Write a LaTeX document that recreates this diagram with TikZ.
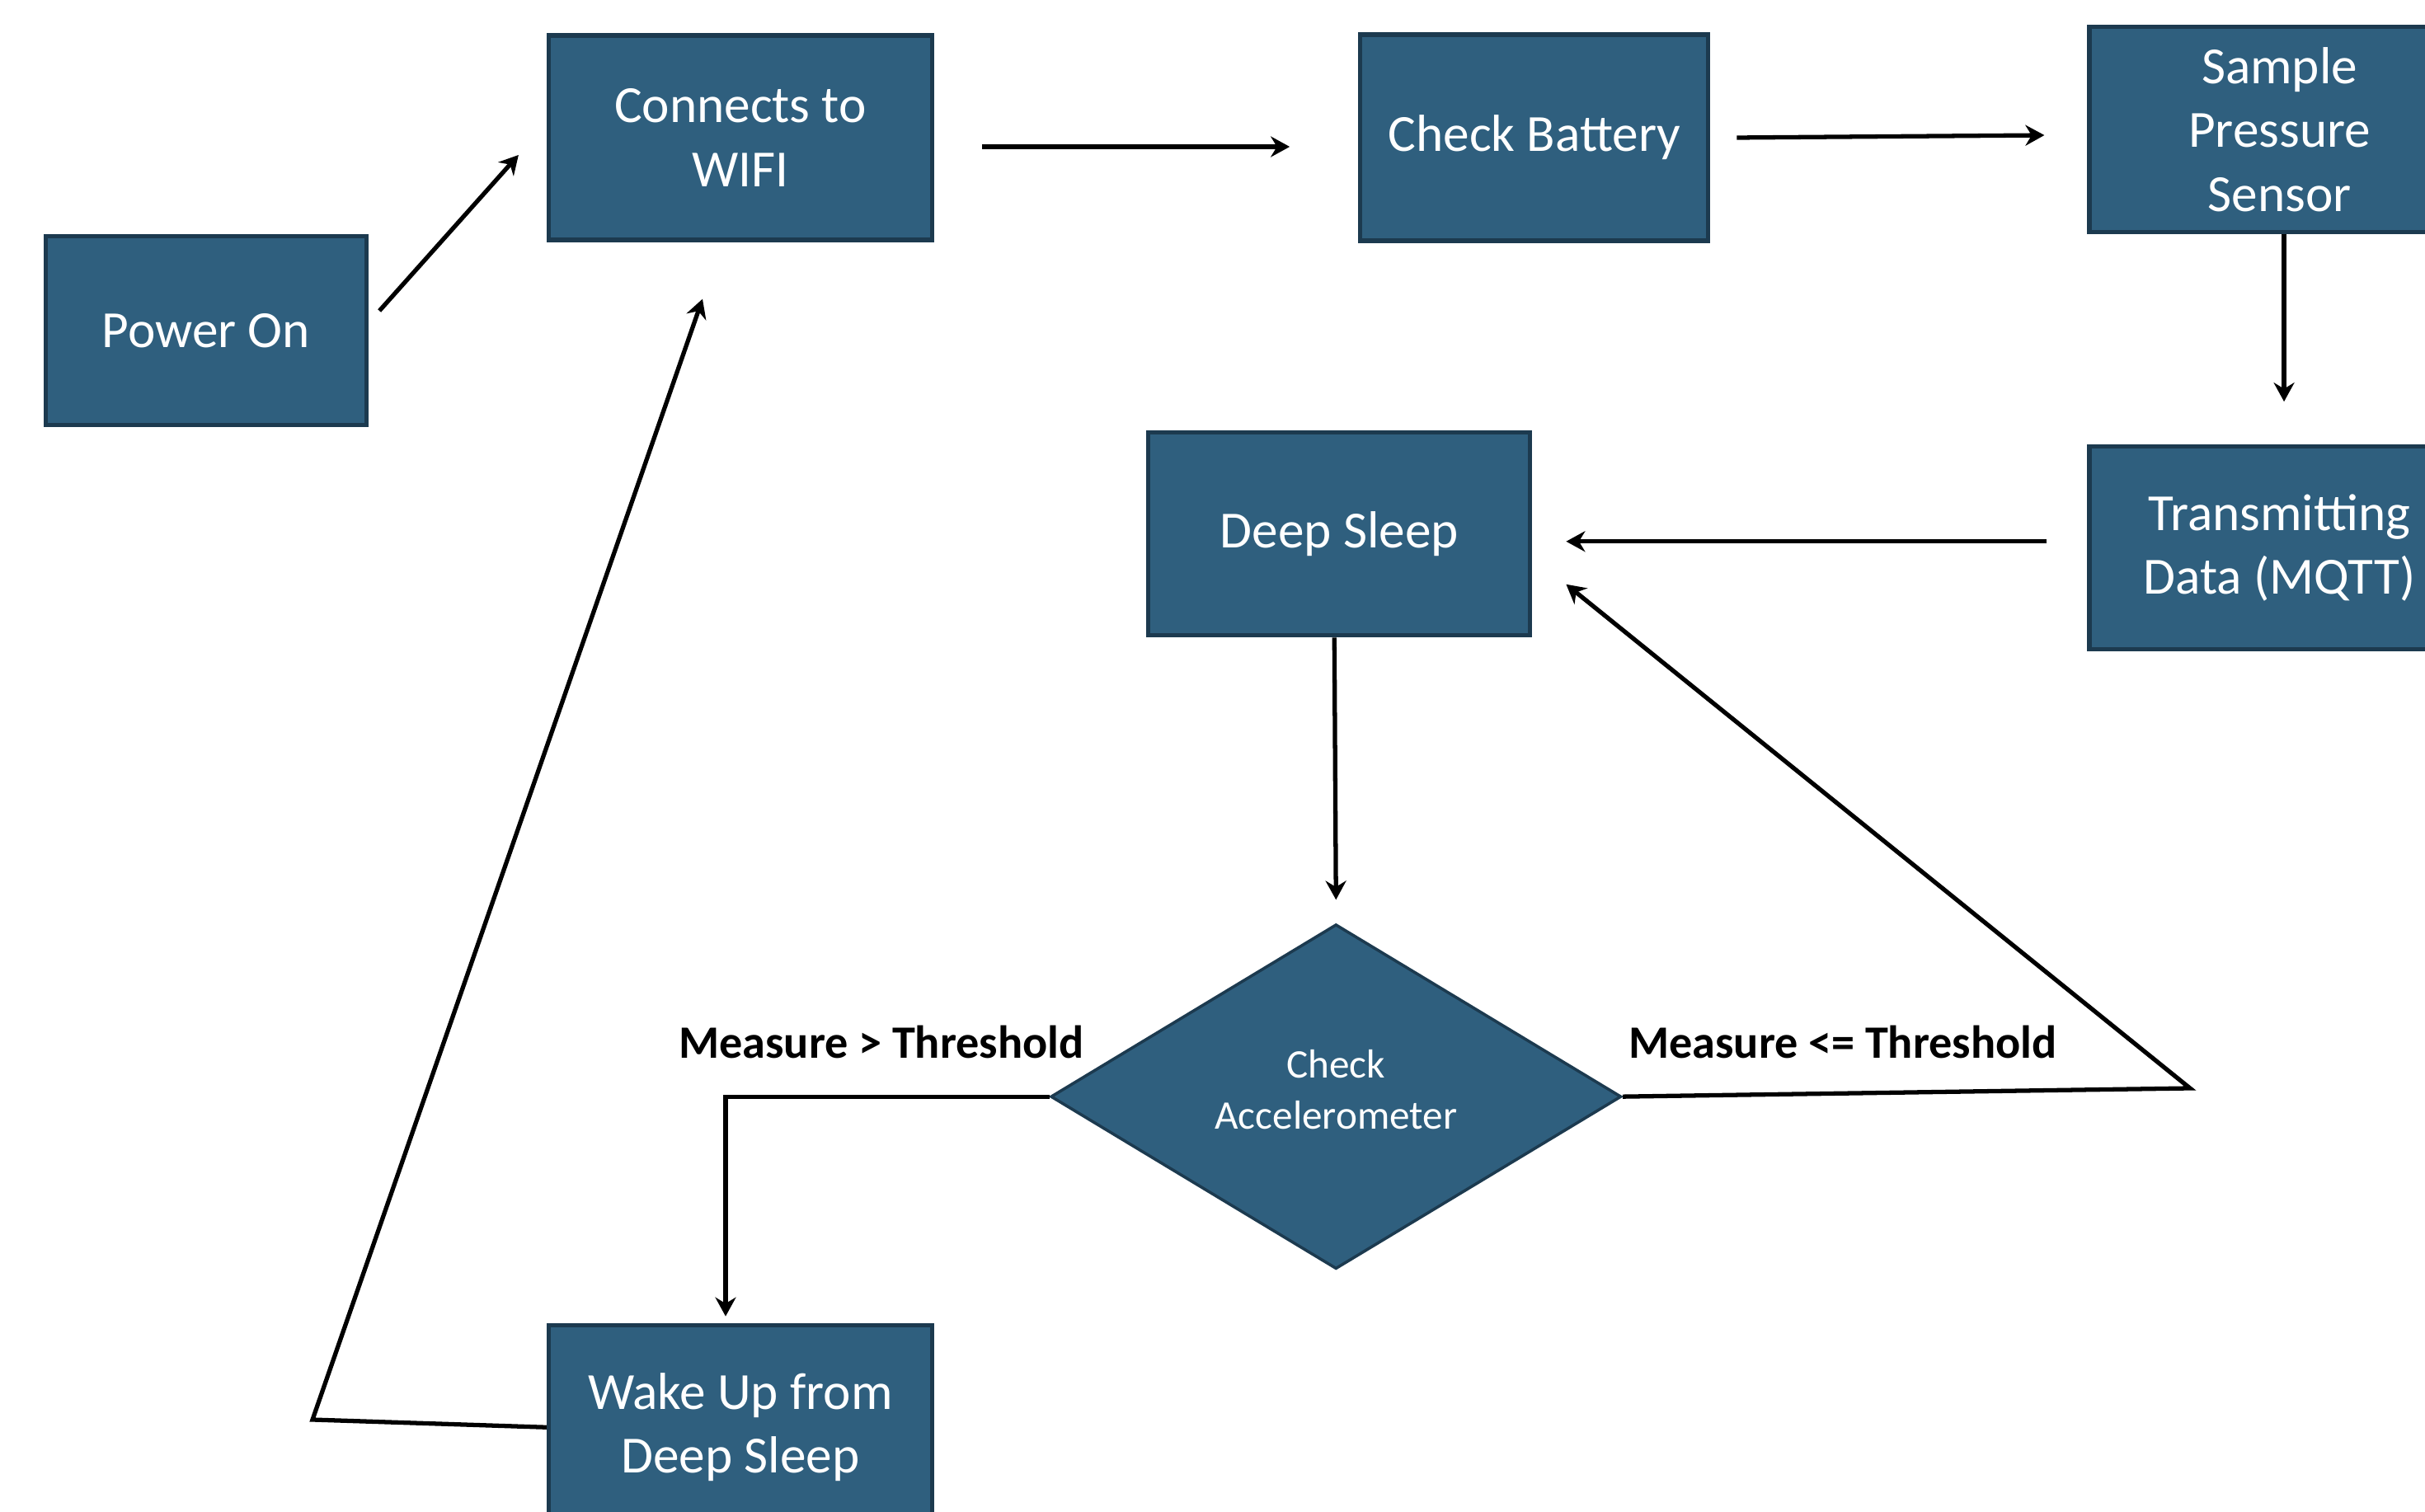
\documentclass[tikz,border=0pt]{standalone}
\usepackage{fontspec}
\setmainfont{Carlito}
\usetikzlibrary{positioning,shapes.geometric,arrows.meta}
\definecolor{boxblue}{HTML}{2F5F7E}
\definecolor{boxedge}{HTML}{1C3A4F}
\begin{document}
\begin{tikzpicture}[
    block/.style={draw=boxedge, line width=1.5pt, fill=boxblue, text=white, align=center,
                  inner sep=0pt, font=\fontsize{18}{22}\selectfont},
    decision/.style={diamond, draw=boxedge, line width=1pt, fill=boxblue, text=white, align=center,
                     inner sep=0pt, minimum width=6.92cm, minimum height=4.18cm,
                     font=\fontsize{14}{17.6}\selectfont},
    cond/.style={font=\fontsize{16}{19}\selectfont\bfseries},
    arr/.style={-{Stealth[length=2.3mm,width=2.5mm]}, line width=1.5pt}]
  \useasboundingbox (0,0) rectangle (29.41,-18.34);
  \clip (0,0) rectangle (29.41,-18.34);
  \node (power) [block, minimum width=3.89cm, minimum height=2.29cm] at (2.50,-4.01) {Power On};
  \node (wifi) [block, minimum width=4.65cm, minimum height=2.48cm] at (8.98,-1.67) {Connects to\\WIFI};
  \node (battery) [block, right=5.14cm of wifi, minimum width=4.22cm, minimum height=2.50cm] {Check Battery};
  \node (sample) [block, right=4.57cm of battery, yshift=1mm, minimum width=4.61cm, minimum height=2.49cm] {Sample\\Pressure\\Sensor};
  \node (transmit) [block, below=2.55cm of sample, minimum width=4.61cm, minimum height=2.46cm] {Transmitting\\Data (MQTT)};
  \node (deep) [block, left=6.73cm of transmit, yshift=1.7mm, minimum width=4.63cm, minimum height=2.46cm] {Deep Sleep};
  \node (check) [decision, below=3.46cm of deep, xshift=-0.4mm]
    {\raisebox{0.4mm}[\height][\depth]{\begin{tabular}{@{}c@{}}Check\\Accelerometer\end{tabular}}};
  \node (wake) [block, below=13.11cm of wifi, minimum width=4.65cm, minimum height=2.48cm] {Wake Up from\\Deep Sleep};
  \node (above) [cond] at (10.69,-12.64) {Measure > Threshold};
  \node (below) [cond] at (22.35,-12.64) {Measure <= Threshold};
  \coordinate (k1) at (26.56,-13.20);
  \coordinate (k2) at (3.79,-17.22);
  \path[arr] ([xshift=1.3mm,yshift=2.4mm]power.east) edge ([xshift=-3.4mm,yshift=-2.1mm]wifi.west)
             ([xshift=5.8mm,yshift=-1.1mm]wifi.east) edge ([xshift=-8.3mm,yshift=-1.1mm]battery.west)
             ([xshift=3.2mm]battery.east) edge ([xshift=-5.2mm,yshift=-0.7mm]sample.west)
             ([xshift=0.55mm]sample.south) edge ([xshift=0.55mm,yshift=5.2mm]transmit.north)
             ([xshift=-4.9mm,yshift=0.8mm]transmit.west) edge ([xshift=4.1mm,yshift=-0.9mm]deep.east)
             ([xshift=-0.6mm]deep.south) edge ([yshift=2.8mm]check.north)
             ;
  \draw[arr] (check.west) -| ([xshift=-1.8mm,yshift=0.8mm]wake.north);
  \draw[arr] (check.east) -- (k1) -- ([xshift=4.1mm,yshift=-6.1mm]deep.east);
  \draw[arr] (wake.west) -- (k2) -- ([xshift=-4.6mm,yshift=-6.9mm]wifi.south);
\end{tikzpicture}
\end{document}
